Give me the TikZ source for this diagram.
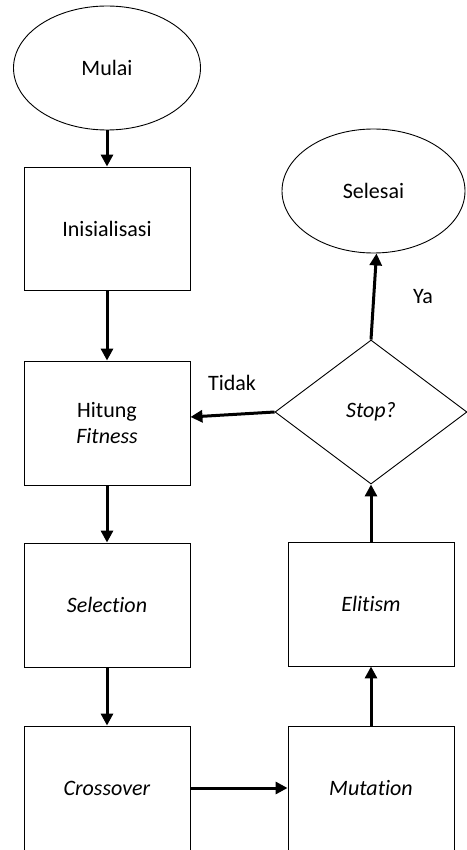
\documentclass[tikz,border=0pt]{standalone}
\usepackage{fontspec}
\setmainfont[Ligatures=NoCommon]{Carlito}
\usetikzlibrary{shapes.geometric,arrows.meta}
\begin{document}
\begin{tikzpicture}[x=1pt,y=1pt,
    box/.style={draw,line width=0.9pt,minimum width=166pt,minimum height=124pt,align=center,inner sep=0pt},
    oval/.style={draw,ellipse,line width=0.9pt,inner sep=0pt},
    flow/.style={-{Triangle[length=12pt,width=12pt]},line width=3pt},
    font=\fontsize{22}{26}\selectfont]
        \useasboundingbox (0,0) rectangle (466,-850);
        % terminals
            \node[oval,minimum width=187pt,minimum height=124pt] (mulai) at (107,-68) {Mulai};
            \node[oval,minimum width=183pt,minimum height=124pt] (selesai) at (373.5,-191) {Selesai};
        % steps
            \node[box,minimum height=123pt] (init) at (107,-228.5) {Inisialisasi};
            \node[box] (hitung) at (107,-423) {Hitung\\\textit{Fitness}};
            \node[box] (selection) at (107,-605) {\textit{Selection}};
            \node[box] (crossover) at (107,-788) {\textit{Crossover}};
            \node[box] (mutation) at (371,-788) {\textit{Mutation}};
            \node[box] (elitism) at (371,-604) {\textit{Elitism}};
            \node[draw,diamond,line width=0.9pt,minimum width=192pt,minimum height=144pt,inner sep=0pt] (stop) at (371,-412) {\textit{Stop?}};
        % flow
            \foreach \a/\b in {mulai/init,init/hitung,hitung/selection,selection/crossover,mutation/elitism,elitism/stop}{
                \draw[flow] (\a) -- (\b);
            }
            \draw[flow] (crossover) -- (mutation);
            \draw[flow] (stop.north) -- ([xshift=3pt]selesai.south);
            \draw[flow] (stop.west) -- ([yshift=6pt]hitung.east);
        % labels
            \node (ya) at (423,-297) {Ya};
            \node (tidak) at (232,-383) {Tidak};
\end{tikzpicture}
\end{document}
